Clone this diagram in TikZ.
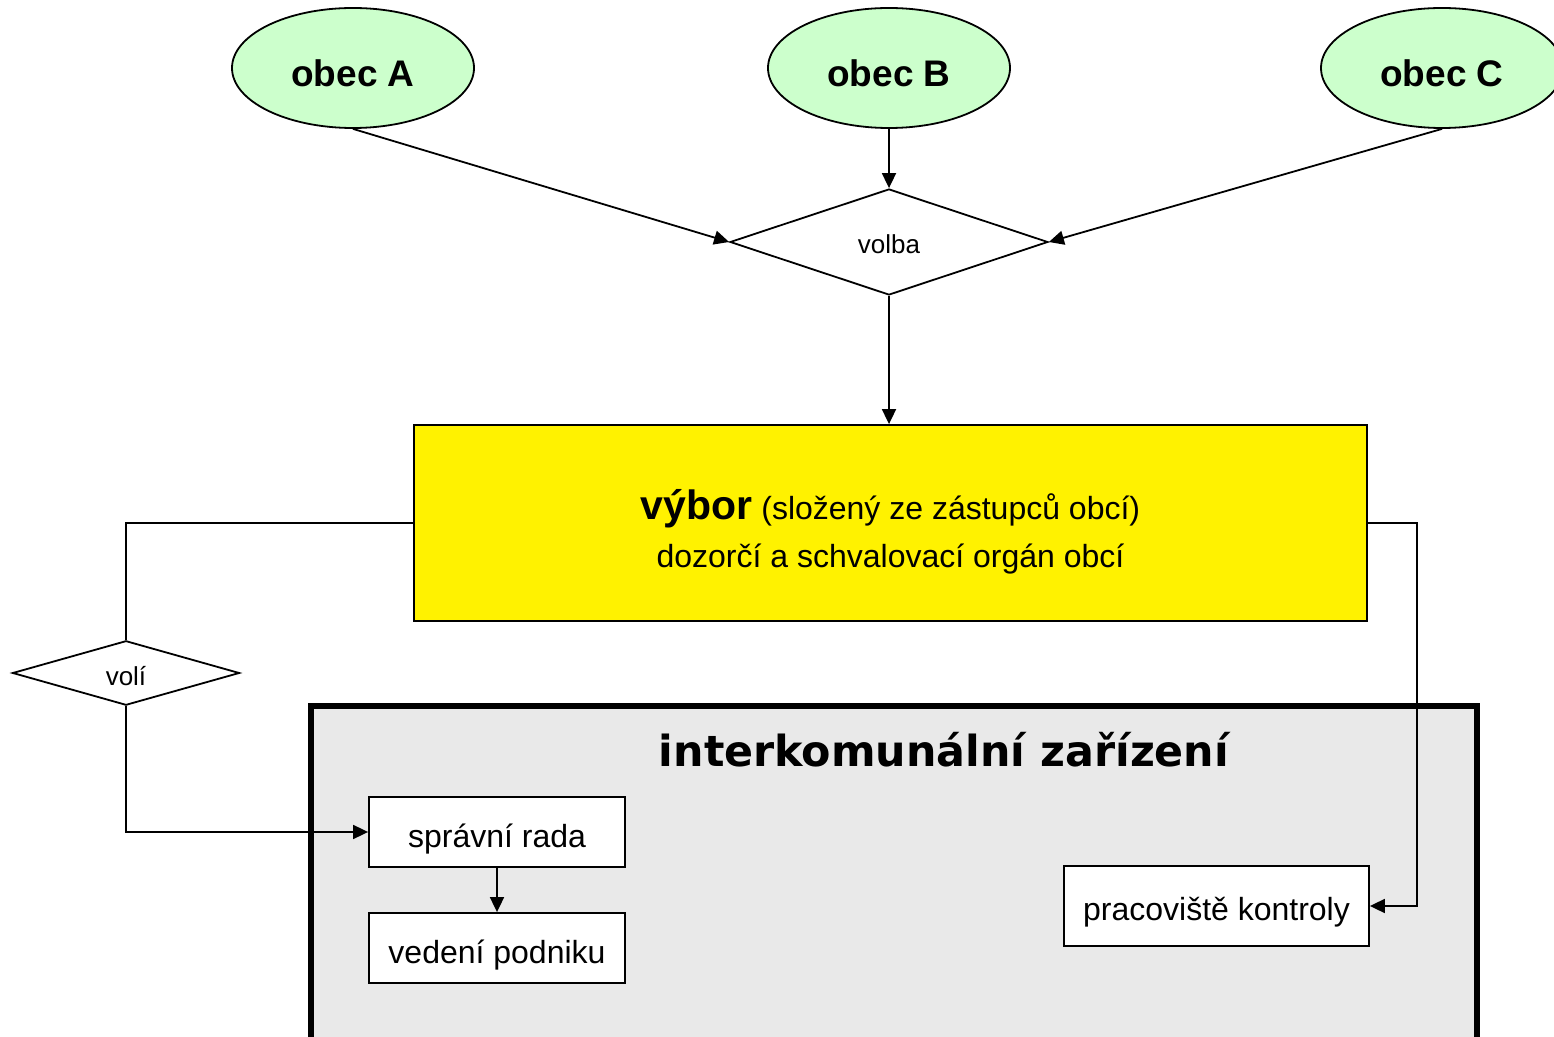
\documentclass[tikz,border=0pt]{standalone}
\usepackage{fontspec}
\setmainfont{Liberation Sans}
\newfontfamily\titlefont{DejaVu Sans}
\usetikzlibrary{shapes.geometric,arrows.meta}
\definecolor{obecgreen}{HTML}{CCFFCC}
\definecolor{boxgray}{HTML}{E9E9E9}

\begin{document}
\begin{tikzpicture}[x=0.5pt,y=-0.5pt,line width=0.9pt,
  >={Triangle[length=7.5pt,width=7pt]},
  obec/.style={draw, ellipse, fill=obecgreen, inner sep=0pt, minimum width=121pt, minimum height=60pt, text height=18.5pt, text depth=0pt, font=\fontsize{18.5}{22}\selectfont\bfseries},
  rozhod/.style={draw, diamond, fill=white, inner sep=0pt, text height=12pt, text depth=0pt, font=\fontsize{13}{15}\selectfont},
  box/.style={draw, fill=white, inner sep=0pt, text height=15pt, text depth=0pt, font=\fontsize{16}{19}\selectfont}]
\useasboundingbox (0,0) rectangle (1554,1037);

% container
\draw[line width=2.8pt, fill=boxgray] (311,706) rectangle (1477,1060);
\node[anchor=base, inner sep=0pt, font=\titlefont\bfseries\fontsize{21.4}{25}\selectfont] (titul) at (944,766) {interkomunální zařízení};

\node[obec] (obecA) at (353,68) {obec A};
\node[obec] (obecB) at (889,68) {obec B};
\node[obec] (obecC) at (1442,68) {obec C};
\node[rozhod, minimum width=159pt, minimum height=53pt] (volba) at (889,242) {volba};
\node[draw, fill=yellow, minimum width=476.5pt, minimum height=98pt] (vybor) at (890.5,523) {};
\node[anchor=base, inner sep=0pt, font=\fontsize{16}{19}\selectfont] (vybor1) at (890.5,520)
  {{\fontsize{20.5}{24}\selectfont\bfseries výbor} (složený ze zástupců obcí)};
\node[anchor=base, inner sep=0pt, font=\fontsize{16}{19}\selectfont] (vybor2) at (890.5,568)
  {dozorčí a schvalovací orgán obcí};
\node[rozhod, minimum width=113.5pt, minimum height=30pt] (voli) at (126,673) {volí};
\node[box, minimum width=128pt, minimum height=35pt] (rada) at (497,832) {správní rada};
\node[box, minimum width=128pt, minimum height=35pt] (vedeni) at (497,948) {vedení podniku};
\node[box, minimum width=152.5pt, minimum height=40pt, text height=14pt] (kontrola) at (1216.5,906) {pracoviště kontroly};
\coordinate (ohyb) at (1417,523);

\draw[->] (obecA.south) -- (volba.west);
\draw[->] (obecB.south) -- (volba.north);
\draw[->] (obecC.south) -- (volba.east);
\draw[->] (volba.south) -- (volba.south |- vybor.north);
\draw (vybor.west) -| (voli.north);
\draw[->] (voli.south) |- (rada.west);
\draw[->] (rada) -- (vedeni);
\draw[->] (vybor.east) -- (ohyb) |- (kontrola.east);
\end{tikzpicture}
\end{document}
